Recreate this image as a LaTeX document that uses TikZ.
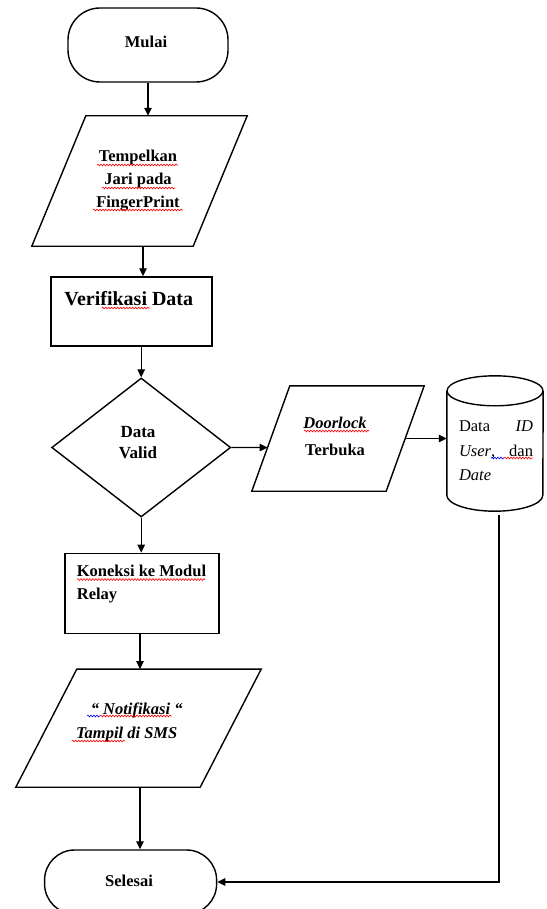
\documentclass[tikz,border=0pt]{standalone}
\usepackage{fontspec}
\setmainfont{Liberation Serif}
\usetikzlibrary{shapes.geometric,arrows.meta,decorations.pathmorphing,calc}
\begin{document}
\begin{tikzpicture}[x=1pt,y=-1pt,
  lw/.style={line width=1.4pt},
  shp/.style={draw, lw, inner sep=0pt},
  term/.style={shp, rectangle, rounded corners=32pt},
  proc/.style={shp, rectangle},
  iobox/.style={rectangle, inner sep=0pt},
  dec/.style={shp, diamond},
  txt/.style={inner sep=0pt, font=\fontsize{16.5}{23}\selectfont\bfseries, align=center},
  arr/.style={line width=1.2pt, -{Triangle[length=8pt,width=7.5pt]}},
  spell/.style={draw=red, line width=0.6pt, decorate, decoration={snake, segment length=3pt, amplitude=0.9pt}},
  spellb/.style={spell, draw=blue}
]
\useasboundingbox (0,0) rectangle (546,909);
\clip (0,0) rectangle (546,909);
\fill[white] (0,0) rectangle (546,909);

% shapes
\node[term, minimum width=160pt, minimum height=74pt] (mulai) at (148,45) {};
\node[iobox, minimum width=215pt, minimum height=130pt] (p1) at (139.5,181) {};
\draw[lw] (p1.south west) -- ([xshift=54pt]p1.north west) -- (p1.north east) -- ([xshift=-54pt]p1.south east) -- cycle;
\node[proc, minimum width=161pt, minimum height=69pt] (verif) at (131.5,311.5) {};
\node[dec, minimum width=179pt, minimum height=139pt] (dv) at (141.2,447.5) {};
\node[iobox, minimum width=172pt, minimum height=105pt] (p2) at (338,438.5) {};
\draw[lw] (p2.south west) -- ([xshift=38pt]p2.north west) -- (p2.north east) -- ([xshift=-38pt]p2.south east) -- cycle;
\node[inner sep=0pt, minimum width=96pt, minimum height=135pt] (db) at (495,443.5) {};
\node[proc, minimum width=154pt, minimum height=80pt] (relay) at (142,593.3) {};
\node[iobox, minimum width=245pt, minimum height=117.7pt] (p3) at (138.5,728.15) {};
\draw[lw] (p3.south west) -- ([xshift=61pt]p3.north west) -- (p3.north east) -- ([xshift=-61pt]p3.south east) -- cycle;
\node[term, rounded corners=30pt, minimum width=172pt, minimum height=64pt] (sel) at (130.6,882) {};

% cylinder outline
\draw[lw] ([yshift=-15pt]db.north west) -- ([yshift=16pt]db.south west)
  arc[start angle=180, end angle=360, x radius=48pt, y radius=16pt] -- ([yshift=-15pt]db.north east);
\draw[lw] ([yshift=-15pt]db.north) ellipse[x radius=48pt, y radius=15pt];

% texts
\node[txt] (tmulai) at (146,42) {Mulai};
\node[txt] (tp1) at (138,181) {Tempelkan\\Jari pada\\FingerPrint};
\node[txt, font=\fontsize{20}{24}\selectfont\bfseries] (tverif) at (128.8,299) {Verifikasi Data};
\node[txt, font=\fontsize{17}{20.5}\selectfont\bfseries] (tdv) at (138,442.5) {Data\\Valid};
\node[txt, font=\fontsize{16.5}{27}\selectfont\bfseries] (tp2) at (335,436.5) {\textit{Doorlock}\\Terbuka};
\node[txt, font=\fontsize{16.5}{24.5}\selectfont, align=left, text width=74pt] (tdb) at (496,451) {Data\hfill\textit{ID}\\\textit{User},\hfill dan\\\textit{Date}};
\node[txt, anchor=west, align=left] (trelay) at (76.7,584.5) {Koneksi ke Modul\\Relay};
\node[txt, font=\fontsize{16.5}{23.5}\selectfont\bfseries\itshape] (tp3) at (126.7,722.5) {\hspace*{20pt}“ Notifikasi “\\Tampil di SMS};
\node[txt] (tsel) at (129,881) {Selesai};

% connection points on slanted edges
\coordinate (p2in) at ($(p2.south west)!0.414!([xshift=38pt]p2.north west)$);
\coordinate (p2out) at ($(p2.north east)!0.5!([xshift=-38pt]p2.south east)$);
\coordinate (colA) at (143,0);
\coordinate (colB) at (140,0);

% connectors
\draw[arr] (mulai.south) -- (mulai.south |- p1.north);
\draw[arr] (p1.south -| colA) -- (verif.north -| colA);
\draw[arr] (verif.south -| dv.north) -- (dv.north);
\draw[arr] (dv.south) -- (dv.south |- relay.north);
\draw[arr] (relay.south -| colB) -- (p3.north -| colB);
\draw[arr] (p3.south -| colB) -- (sel.north -| colB);
\draw[arr] (dv.east) -- (p2in);
\draw[arr] (p2out) -- (p2out -| db.west);
\draw[arr] ([xshift=4pt,yshift=-4pt]db.south) |- (sel.east);

% spell-check marks
\draw[spell] (97,165) -- (178,165);
\draw[spell] (102,188) -- (175,188);
\draw[spell] (93,210) -- (183,210);
\draw[spell] (101.7,308) -- (150,308);
\draw[spell] (304,431) -- (369,431);
\draw[spellb] (491,458) -- (504,458);
\draw[spell] (504,458) -- (532.7,458);
\draw[spell] (77,579.5) -- (205,579.5);
\draw[spellb] (87,716) -- (100,716);
\draw[spell] (100,716) -- (171.7,716);
\draw[spell] (71.7,741) -- (125,741);
\end{tikzpicture}
\end{document}
